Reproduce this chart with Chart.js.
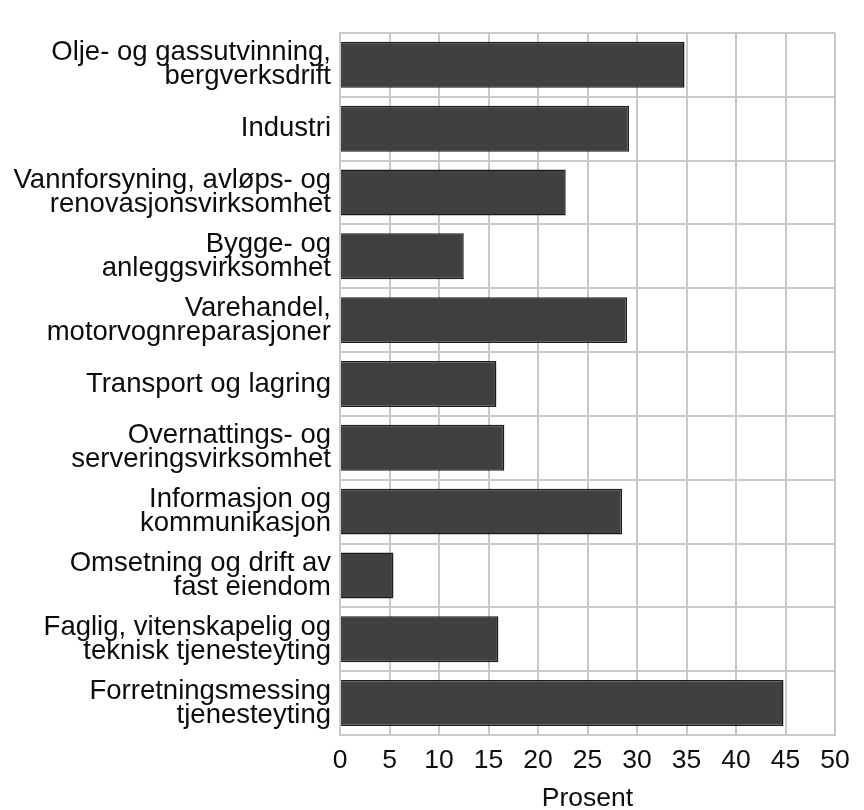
<!DOCTYPE html>
<html>
<head>
<meta charset="utf-8">
<script src="https://cdn.jsdelivr.net/npm/chart.js@4/dist/chart.umd.min.js"></script>
<style>
  html, body { margin: 0; padding: 0; background: #fff; }
  #wrap { width: 864px; height: 810px; }
</style>
</head>
<body>
<div id="wrap"><canvas id="c" width="864" height="810"></canvas></div>
<script>
// Næringer (kategorier), hver linje i etiketten som eget element
const categories = [
  ["Olje- og gassutvinning,", "bergverksdrift"],
  "Industri",
  ["Vannforsyning, avløps- og", "renovasjonsvirksomhet"],
  ["Bygge- og", "anleggsvirksomhet"],
  ["Varehandel,", "motorvognreparasjoner"],
  "Transport og lagring",
  ["Overnattings- og", "serveringsvirksomhet"],
  ["Informasjon og", "kommunikasjon"],
  ["Omsetning og drift av", "fast eiendom"],
  ["Faglig, vitenskapelig og", "teknisk tjenesteyting"],
  ["Forretningsmessing", "tjenesteyting"]
];

// Andel i prosent
const values = [34.8, 29.2, 22.8, 12.5, 29.0, 15.8, 16.6, 28.5, 5.4, 16.0, 44.8];

// Verdiakse
const xMin = 0;
const xMax = 50;
const xStep = 5;
const xTitle = "Prosent";

const gridColor = "#c9c9c9";
const textColor = "#0d0d0d";
const fontFamily = "'Liberation Sans', Arial, Helvetica, sans-serif";

new Chart(document.getElementById("c"), {
  type: "bar",
  data: {
    labels: categories,
    datasets: [{
      data: values,
      backgroundColor: "#404040",
      borderColor: "#1c1c1c",
      borderWidth: 1.5,
      barPercentage: 0.72,
      categoryPercentage: 1.0
    }]
  },
  options: {
    indexAxis: "y",
    responsive: false,
    animation: false,
    devicePixelRatio: 1,
    layout: { padding: { top: 15, right: 29, bottom: 0, left: 0 } },
    plugins: {
      legend: { display: false },
      tooltip: { enabled: false }
    },
    scales: {
      x: {
        min: xMin,
        max: xMax,
        afterFit: (s) => { s.height = 75; },
        ticks: {
          stepSize: xStep,
          color: textColor,
          padding: 10,
          maxRotation: 0,
          font: { family: fontFamily, size: 26.5 }
        },
        grid: { color: gridColor, lineWidth: 2, drawTicks: false },
        border: { color: gridColor, width: 2 },
        title: {
          display: true,
          text: xTitle,
          color: textColor,
          padding: 0,
          font: { family: fontFamily, size: 26.5, lineHeight: 0.85 }
        }
      },
      y: {
        afterFit: (s) => { s.width = 340; },
        ticks: {
          color: textColor,
          padding: 9,
          autoSkip: false,
          font: { family: fontFamily, size: 27.5, lineHeight: 0.87 }
        },
        grid: { color: gridColor, lineWidth: 2, drawTicks: false },
        border: { color: gridColor, width: 2 }
      }
    }
  }
});
</script>
</body>
</html>
